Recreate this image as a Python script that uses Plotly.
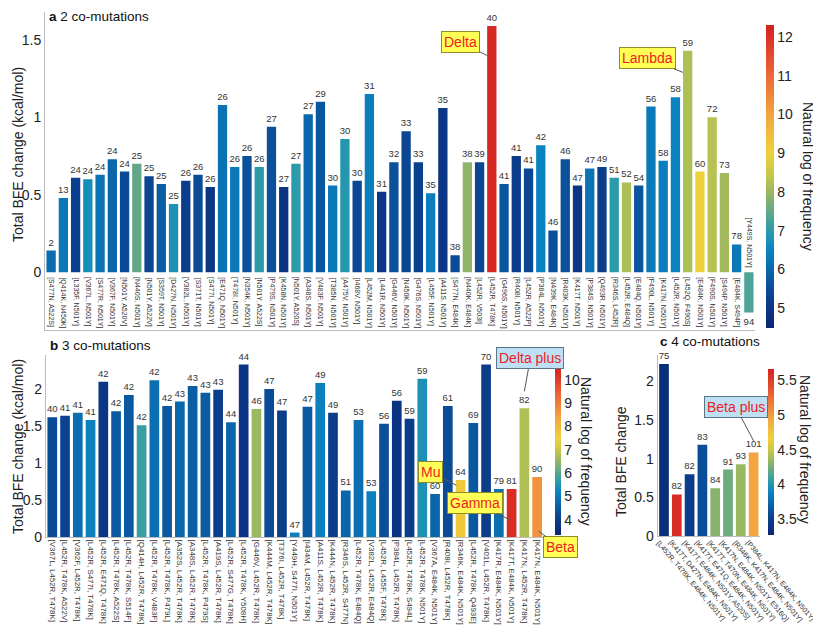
import plotly.graph_objects as go

# ---------------- data ----------------
a_labels = ["[S477N, A522S]", "[Q414K, N450K]", "[L335F, N501Y]", "[V367L, N501Y]", "[S477R, N501Y]",
            "[V367F, N501Y]", "[N501Y, A520V]", "[N440S, N501Y]", "[N501Y, A522V]", "[S359T, N501Y]",
            "[D427N, N501Y]", "[V382L, N501Y]", "[S371T, N501Y]", "[S477I, N501Y]", "[E471Q, N501Y]",
            "[T478I, N501Y]", "[N354K, N501Y]", "[N501Y, A522S]", "[P479S, N501Y]", "[K458N, N501Y]",
            "[N501Y, A520S]", "[A348S, N501Y]", "[V483F, N501Y]", "[T385N, N501Y]", "[A475V, N501Y]",
            "[I468V, N501Y]", "[L452M, N501Y]", "[L441R, N501Y]", "[G446V, N501Y]", "[N450K, N501Y]",
            "[G476S, N501Y]", "[L455F, N501Y]", "[A411S, N501Y]", "[S477N, E484K]", "[N440K, E484K]",
            "[L452R, V503I]", "[L452R, T478K]", "[G496S, N501Y]", "[R408I, N501Y]", "[L452R, A522P]",
            "[P384L, N501Y]", "[N439K, E484K]", "[R403K, N501Y]", "[K417T, N501Y]", "[P384S, N501Y]",
            "[Q493R, N501Y]", "[R346S, L452R]", "[L452R, E484Q]", "[E484Q, N501Y]", "[F490L, N501Y]",
            "[K417N, N501Y]", "[L452R, N501Y]", "[L452Q, F490S]", "[E484K, N501Y]", "[F490S, N501Y]",
            "[S494P, N501Y]", "[E484K, S494P]", "[Y449S, N501Y]"]
a_bfe = [0.14, 0.48, 0.61, 0.60, 0.63, 0.73, 0.65, 0.70, 0.62, 0.57,
         0.44, 0.59, 0.63, 0.55, 1.08, 0.68, 0.75, 0.68, 0.94, 0.55,
         0.70, 1.02, 1.10, 0.56, 0.86, 0.59, 1.15, 0.52, 0.71, 0.91,
         0.71, 0.51, 1.06, 0.11, 0.71, 0.71, 1.59, 0.57, 0.75, 0.67,
         0.82, 0.27, 0.73, 0.56, 0.67, 0.68, 0.61, 0.58, 0.56, 1.07,
         0.72, 1.13, 1.43, 0.65, 1.00, 0.64, 0.18, -0.26]
a_lnfreq = [6.1, 6.3, 5.3, 6.7, 6.2, 6.0, 5.5, 7.5, 5.4, 5.8,
            6.8, 5.2, 5.5, 5.0, 6.2, 6.3, 5.6, 7.0, 5.6, 5.0,
            7.0, 6.0, 5.7, 6.3, 6.9, 5.4, 6.4, 5.0, 5.6, 5.4,
            5.3, 6.4, 5.0, 5.5, 7.9, 5.4, 12.15, 5.7, 5.2, 5.4,
            6.5, 5.6, 5.6, 5.0, 6.2, 5.2, 7.0, 8.2, 5.7, 6.3,
            6.4, 6.5, 8.2, 9.0, 8.3, 8.1, 6.3, 7.3]
a_num = [2, 13, 24, 24, 24, 24, 24, 25, 25, 25,
         25, 26, 26, 26, 26, 26, 26, 26, 27, 27,
         27, 27, 29, 30, 30, 30, 31, 31, 32, 33,
         33, 35, 35, 38, 38, 39, 40, 41, 41, 41,
         42, 46, 46, 47, 47, 49, 51, 52, 54, 56,
         58, 58, 59, 60, 72, 73, 78, 94]

b_labels = ["[V367L, L452R, T478K]", "[L452R, T478K, A522V]", "[V362F, L452R, T478K]", "[L452R, S477I, T478K]",
            "[L452R, E471Q, T478K]", "[L452R, T478K, A522S]", "[L452R, T478K, S514F]", "[Q414H, L452R, T478K]",
            "[L452R, T478K, V483F]", "[L452R, T478K, P479L]", "[A352S, L452R, T478K]", "[A348S, L452R, T478K]",
            "[L452R, T478K, P479S]", "[A419S, L452R, T478K]", "[L452R, S477G, T478K]", "[L452R, T478K, Y508H]",
            "[G446V, L452R, T478K]", "[K444M, L452R, T478K]", "[T376I, L452R, T478K]", "[Y449H, S477I, N501Y]",
            "[I434M, L452R, T478K]", "[A411S, L452R, T478K]", "[K444N, L452R, T478K]", "[R346S, L452R, S477N]",
            "[L452R, T478K, E484Q]", "[V382L, L452R, E484Q]", "[L452R, L455F, T478K]", "[P384L, L452R, T478K]",
            "[L452R, T478K, S494L]", "[L452R, T478K, N501Y]", "[V367A, E484K, N501Y]", "[R408I, L452R, T478K]",
            "[R346K, E484K, N501Y]", "[L452R, T478K, Q493E]", "[V401L, L452R, T478K]", "[K417R, E484K, N501Y]",
            "[K417T, E484K, N501Y]", "[K417N, L452R, T478K]", "[K417N, E484K, N501Y]"]
b_bfe = [1.62, 1.64, 1.68, 1.58, 2.10, 1.70, 1.92, 1.51, 2.12, 1.77,
         1.83, 2.04, 1.95, 1.99, 1.55, 2.33, 1.73, 2.00, 1.71, 0.06,
         1.76, 2.08, 1.68, 0.63, 1.58, 0.62, 1.53, 1.84, 1.60, 2.14,
         0.58, 1.77, 0.77, 1.54, 2.33, 0.65, 0.65, 1.74, 0.81]
b_lnfreq = [4.27, 4.13, 4.84, 5.13, 3.81, 4.49, 4.49, 5.75, 4.84, 4.49,
            4.70, 4.55, 4.55, 3.98, 4.70, 3.81, 6.56, 4.27, 3.98, 5.13,
            4.49, 5.13, 3.98, 4.70, 4.84, 5.13, 4.35, 3.75, 3.98, 5.45,
            4.70, 4.27, 7.64, 4.49, 3.98, 4.84, 10.3, 6.78, 8.64]
b_num = [40, 41, 41, 41, 42, 42, 42, 42, 42, 42,
         43, 43, 43, 43, 44, 44, 46, 47, 47, 47,
         47, 49, 49, 51, 53, 53, 56, 56, 59, 59,
         60, 61, 64, 69, 70, 79, 81, 82, 90]

c_labels = ["[L452R, T478K, E484K, N501Y]", "[K417T, D427N, E484K, N501Y]", "[K417T, E484K, N501Y, A520S]",
            "[K417T, E471Q, E484K, N501Y]", "[K417T, T470N, E484K, N501Y]", "[K417N, E484K, N501Y, E516Q]",
            "[R346K, K417N, E484K, N501Y]", "[P384L, K417N, E484K, N501Y]"]
c_bfe = [2.22, 0.54, 0.80, 1.18, 0.62, 0.86, 0.93, 1.08]
c_lnfreq = [3.35, 5.59, 3.49, 3.61, 4.30, 4.23, 4.35, 4.95]
c_num = [75, 82, 82, 83, 84, 91, 93, 101]

# ---------------- layout helpers ----------------
W, H = 821, 627


def px(x):
    return x / W


def py(y):
    return 1 - y / H


cscale = [[0.0, "#0b2873"], [0.065, "#0b3585"], [0.13, "#0a4a96"], [0.19, "#0a66aa"],
          [0.26, "#0c84c2"], [0.32, "#2a9bab"], [0.385, "#62a888"], [0.45, "#9ab860"],
          [0.51, "#c8c84a"], [0.58, "#f0d03a"], [0.70, "#f2a640"], [0.83, "#ec6a36"],
          [1.0, "#d42020"]]

FONT = "Liberation Sans, Arial, sans-serif"
TXT = "#333333"
AX = "#bdbdbd"

fig = go.Figure()


def add_bars(xs, ys, cols, nums, xa, ya, cax):
    fig.add_trace(go.Bar(
        x=xs, y=ys, text=[str(n) for n in nums], textposition="outside",
        textangle=0, constraintext="none", cliponaxis=False,
        textfont=dict(size=9.5, color=TXT, family=FONT),
        marker=dict(color=cols, coloraxis=cax, line=dict(width=0)),
        width=0.76, xaxis=xa, yaxis=ya, showlegend=False, hoverinfo="x+y"))


add_bars(list(range(len(a_labels))), a_bfe, a_lnfreq, a_num, "x", "y", "coloraxis")
add_bars(list(range(len(b_labels))), b_bfe, b_lnfreq, b_num, "x2", "y2", "coloraxis2")
add_bars(list(range(len(c_labels))), c_bfe, c_lnfreq, c_num, "x3", "y3", "coloraxis3")


def cbar(x0, ytop, length, thick, tv, tt):
    return dict(x=px(x0), xanchor="left", y=py(ytop), yanchor="top",
                len=length, lenmode="pixels", thickness=thick, thicknessmode="pixels",
                xpad=0, ypad=0, outlinewidth=0, ticks="", tickvals=tv, ticktext=tt,
                tickfont=dict(size=14, color="#222", family=FONT))


yfont = dict(size=14, color="#222", family=FONT)

fig.update_layout(
    width=W, height=H, margin=dict(l=0, r=0, t=0, b=0, autoexpand=False),
    paper_bgcolor="white", plot_bgcolor="white",
    font=dict(family=FONT, color=TXT),
    xaxis=dict(domain=[px(37), px(747)], range=[-0.5, len(a_labels) - 0.5],
               showticklabels=False, ticks="", showgrid=False, zeroline=False,
               showline=True, linecolor=AX, linewidth=1, anchor="y"),
    yaxis=dict(domain=[py(321.6), py(4)], range=[-0.37, 1.68],
               tickvals=[0, 0.5, 1, 1.5], ticktext=["0", "0.5", "1", "1.5"],
               tickfont=yfont, ticks="", showgrid=False, zeroline=False,
               showline=True, linecolor=AX, linewidth=1, anchor="x"),
    xaxis2=dict(domain=[px(37.9), px(535.5)], range=[-0.5, len(b_labels) - 0.5],
                tickvals=list(range(len(b_labels))), ticktext=b_labels, tickangle=90,
                tickfont=dict(size=7.9, color=TXT, family=FONT), ticks="",
                showgrid=False, zeroline=False, showline=True, linecolor=AX, anchor="y2"),
    yaxis2=dict(domain=[py(529), py(347)], range=[0, 2.46],
                tickvals=[0, 0.5, 1, 1.5, 2], ticktext=["0", "0.5", "1", "1.5", "2"],
                tickfont=yfont, ticks="", showgrid=False, zeroline=False,
                showline=True, linecolor=AX, anchor="x2"),
    xaxis3=dict(domain=[px(649.6), px(752)], range=[-0.5, len(c_labels) - 0.5],
                showticklabels=False, ticks="",
                showgrid=False, zeroline=False, showline=True, linecolor=AX, anchor="y3"),
    yaxis3=dict(domain=[py(528.3), py(346.7)], range=[0, 2.34],
                tickvals=[0, 0.5, 1, 1.5, 2], ticktext=["0", "0.5", "1", "1.5", "2"],
                tickfont=yfont, ticks="", showgrid=False, zeroline=False,
                showline=True, linecolor=AX, anchor="x3"),
    coloraxis=dict(cmin=4.49, cmax=12.31, colorscale=cscale,
                   colorbar=cbar(758, 17, 303, 8, list(range(5, 13)), [str(v) for v in range(5, 13)])),
    coloraxis2=dict(cmin=3.34, cmax=10.5, colorscale=cscale,
                    colorbar=cbar(547, 360, 167, 6, list(range(4, 11)), [str(v) for v in range(4, 11)])),
    coloraxis3=dict(cmin=3.28, cmax=5.66, colorscale=cscale,
                    colorbar=cbar(760, 360.7, 166, 6, [3.5, 4, 4.5, 5, 5.5],
                                  ["3.5", "4", "4.5", "5", "5.5"])),
)

ann = []
# panel a category labels inside the plot, hanging from the zero line
for i, lab in enumerate(a_labels):
    neg = a_bfe[i] < 0
    ann.append(dict(x=i, y=0, xref="x", yref="y", text=lab, showarrow=False,
                    textangle=90, xanchor="center", yanchor="bottom" if neg else "top",
                    yshift=3 if neg else -3, font=dict(size=7, color=TXT, family=FONT)))

# panel c category labels, slanted
for i, lab in enumerate(c_labels):
    ann.append(dict(x=i, y=0, xref="x3", yref="y3", text=lab, showarrow=False,
                    textangle=50, xanchor="left", yanchor="top", xshift=-11, yshift=-1,
                    borderpad=0, font=dict(size=7.2, color=TXT, family=FONT)))

# panel titles
for txt, x0, y0 in [("<b>a</b> 2 co-mutations", 39, 9), ("<b>b</b> 3 co-mutations", 40, 337),
                    ("<b>c</b> 4 co-mutations", 650, 333)]:
    ann.append(dict(x=px(x0), y=py(y0), xref="paper", yref="paper", text=txt, showarrow=False,
                    xanchor="left", yanchor="middle", font=dict(size=13.5, color="#111", family=FONT)))

# y axis titles
for txt, x0, y0 in [("Total BFE change (kcal/mol)", 10, 147), ("Total BFE change (kcal/mol)", 10, 439),
                    ("Total BFE change", 613, 454)]:
    ann.append(dict(x=px(x0), y=py(y0), xref="paper", yref="paper", text=txt, showarrow=False,
                    textangle=-90, xanchor="center", yanchor="middle",
                    font=dict(size=14, color="#222", family=FONT)))

# colour bar titles
for x0, y0 in [(800, 168), (578, 443), (797, 441)]:
    ann.append(dict(x=px(x0), y=py(y0), xref="paper", yref="paper", text="Natural log of frequency",
                    showarrow=False, textangle=90, xanchor="center", yanchor="middle",
                    font=dict(size=14, color="#222", family=FONT)))

# variant call-outs
YEL, YELB = "#ffff55", "#8c8c2a"
BLU, BLUB = "#bfe0f4", "#5b7688"
RED = "#ee1c25"
callouts = [
    ("Delta", "x", "y", 35.6, 1.40, -26, -13, YEL, YELB),
    ("Lambda", "x", "y", 51.62, 1.29, -36, -14, YEL, YELB),
    ("Delta plus", "x2", "y2", 37.0, 1.97, 6, -33, BLU, BLUB),
    ("Mu", "x2", "y2", 31.67, 0.70, -26, -13, YEL, YELB),
    ("Gamma", "x2", "y2", 35.9, 0.23, -35, -17, YEL, YELB),
    ("Beta", "x2", "y2", 38.1, 0.08, 22, 16, YEL, YELB),
    ("Beta plus", "x3", "y3", 7.0, 1.23, -18, -34, BLU, BLUB),
]
for txt, xr, yr, xv, yv, axp, ayp, bg, bc in callouts:
    ann.append(dict(x=xv, y=yv, xref=xr, yref=yr, text=txt, showarrow=True, arrowhead=0,
                    arrowwidth=1, arrowcolor="#555", ax=axp, ay=ayp,
                    font=dict(size=14, color=RED, family=FONT), bgcolor=bg, bordercolor=bc,
                    borderwidth=1, borderpad=2))

fig.update_layout(annotations=ann)
fig.write_html("out.html")
